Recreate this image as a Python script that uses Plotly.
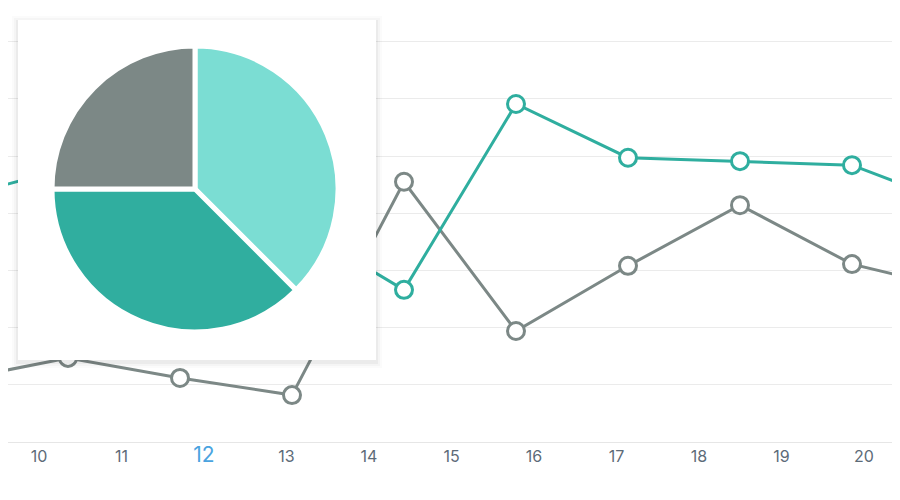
import plotly.graph_objects as go

idx = [-1, 0, 1, 2, 3, 4, 5, 6, 7, 8]
gray_vals = [10.8, 14.7, 11.2, 8.2, 45.5, 19.4, 30.8, 41.4, 31.1, 26.4]
teal_vals = [42.7, 47.9, 40.9, 38.3, 26.6, 59.1, 49.7, 49.1, 48.4, 40.9]
tick_vals = [10, 11, 12, 13, 14, 15, 16, 17, 18, 19, 20]
pie_labels = ["A", "B", "C"]
pie_vals = [37.5, 37.5, 25]
pie_colors = ["#7BDDD3", "#30AE9F", "#7C8886"]

GRAY = "#7C8886"
TEAL = "#2FAE9F"

fig = go.Figure()
# anchor trace for the base tick axis
fig.add_trace(go.Scatter(x=[tick_vals[0]], y=[0], xaxis="x", yaxis="y", mode="markers",
                         marker=dict(size=1, opacity=0), showlegend=False, hoverinfo="skip"))
for vals, col in [(gray_vals, GRAY), (teal_vals, TEAL)]:
    fig.add_trace(go.Scatter(x=idx, y=vals, xaxis="x2", yaxis="y", mode="lines+markers",
                             line=dict(color=col, width=3),
                             marker=dict(size=17, color="white", line=dict(color=col, width=3)),
                             showlegend=False, hoverinfo="skip"))

# card with soft shadow (px coordinates on helper axes)
L, T, R, B = 10, 12, 368, 352
for d, a in [(6, 0.015), (4, 0.025), (2, 0.04)]:
    fig.add_trace(go.Scatter(x=[L-d, R+d, R+d, L-d, L-d], y=[T-d+2, T-d+2, B+d+2, B+d+2, T-d+2],
                             xaxis="x3", yaxis="y3", mode="lines", fill="toself",
                             fillcolor=f"rgba(0,0,0,{a})", line=dict(width=0),
                             showlegend=False, hoverinfo="skip"))
fig.add_trace(go.Scatter(x=[L, R, R, L, L], y=[T, T, B, B, T], xaxis="x3", yaxis="y3",
                         mode="lines", fill="toself", fillcolor="white", line=dict(width=0),
                         showlegend=False, hoverinfo="skip"))

fig.add_trace(go.Pie(labels=pie_labels, values=pie_vals, sort=False, direction="clockwise",
                     rotation=0, marker=dict(colors=pie_colors, line=dict(color="white", width=5)),
                     textinfo="none", hoverinfo="skip", showlegend=False,
                     domain=dict(x=[44/900, 330/900], y=[(434-324)/434, (434-38)/434])))

ticktext = [f'<span style="color:#4AA3DF;font-size:21px">{v}</span>' if v == 12 else str(v) for v in tick_vals]

fig.update_layout(
    width=900, height=500, margin=dict(l=0, r=0, t=0, b=66, autoexpand=False),
    paper_bgcolor="white", plot_bgcolor="white",
    xaxis=dict(range=[10 - 31/82.5, 10 + (900-31)/82.5], tickvals=tick_vals, ticktext=ticktext,
               showgrid=False, zeroline=False, showline=True, linecolor="#E6E6E6",
               tickfont=dict(family="Inter", size=16, color="#5D6B78"), ticks="", ticklen=0),
    xaxis2=dict(range=[-60/112, 840/112], overlaying="x", visible=False),
    yaxis=dict(range=[0, 434/5.72], dtick=10, showgrid=True, gridcolor="#EBEBEB",
               showticklabels=False, zeroline=False),
    xaxis3=dict(range=[0, 900], overlaying="x", visible=False),
    yaxis3=dict(range=[434, 0], overlaying="y", visible=False),
)
fig.write_html("out.html")
